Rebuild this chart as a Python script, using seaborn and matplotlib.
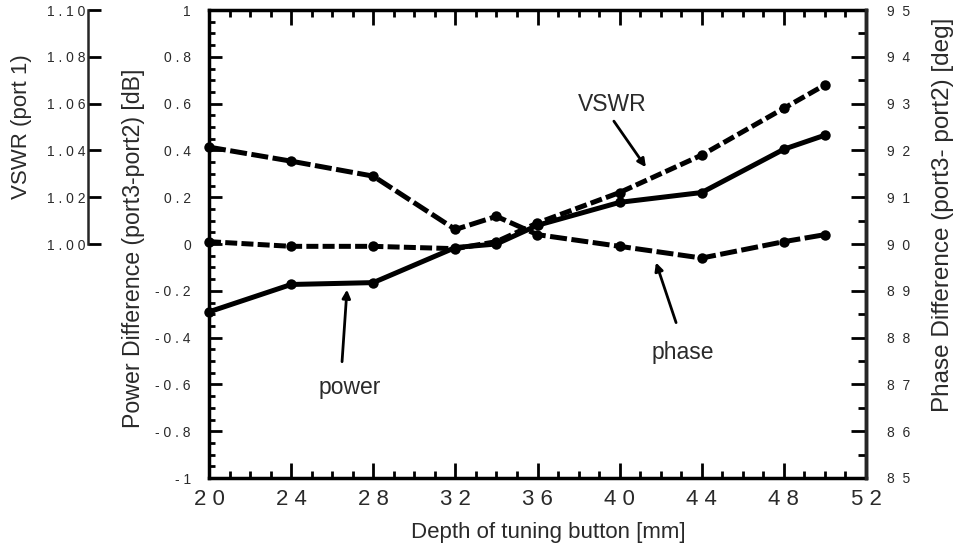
import numpy as np
import matplotlib
matplotlib.use("Agg")
import matplotlib.pyplot as plt
from matplotlib.ticker import MultipleLocator, FixedLocator
import seaborn as sns

# data
depth = [20, 24, 28, 32, 34, 36, 40, 44, 48, 50]
power_db = [-0.29, -0.173, -0.165, -0.015, 0.0, 0.08, 0.178, 0.22, 0.405, 0.465]
phase_deg = [92.07, 91.77, 91.45, 90.31, 90.59, 90.2, 89.95, 89.7, 90.05, 90.2]
vswr = [1.001, 0.999, 0.999, 0.998, 1.001, 1.009, 1.022, 1.038, 1.058, 1.068]

x_ticks = [20, 24, 28, 32, 36, 40, 44, 48, 52]
power_ticks = [-1, -0.8, -0.6, -0.4, -0.2, 0, 0.2, 0.4, 0.6, 0.8, 1]
power_labels = ["- 1", "- 0 . 8", "- 0 . 6", "- 0 . 4", "- 0 . 2", "0",
                "0 . 2", "0 . 4", "0 . 6", "0 . 8", "1"]
phase_ticks = [85, 86, 87, 88, 89, 90, 91, 92, 93, 94, 95]
vswr_ticks = [1.00, 1.02, 1.04, 1.06, 1.08, 1.10]

sns.set_style("ticks")
plt.rcParams["font.family"] = ["Liberation Sans", "DejaVu Sans"]
txt = "#2a2a2a"

fig = plt.figure(figsize=(9.56, 5.52), dpi=100)
ax = fig.add_axes([209 / 956, 1 - 478 / 552, 657 / 956, 468 / 552])
ax2 = ax.twinx()
ax3 = ax.twinx()

lw = 3.6
ms = 7.5
sns.lineplot(x=depth, y=power_db, ax=ax, color="black", linewidth=lw,
             marker="o", markersize=ms, markeredgewidth=0, clip_on=False)
sns.lineplot(x=depth, y=phase_deg, ax=ax2, color="black", linewidth=lw,
             linestyle=(0, (3.4, 0.9)), marker="o", markersize=ms,
             markeredgewidth=0, clip_on=False)
sns.lineplot(x=depth, y=vswr, ax=ax3, color="black", linewidth=lw,
             linestyle=(0, (2.4, 0.85)), marker="o", markersize=ms,
             markeredgewidth=0, clip_on=False)

# main axis (power)
ax.set_xlim(20, 52)
ax.set_ylim(-1, 1)
ax.set_xticks(x_ticks)
ax.set_xticklabels([" ".join(str(v)) for v in x_ticks], fontsize=16, color=txt)
ax.xaxis.set_minor_locator(MultipleLocator(1))
ax.set_yticks(power_ticks)
ax.set_yticklabels(power_labels, fontsize=10, color=txt)
ax.yaxis.set_minor_locator(MultipleLocator(0.05))
ax.tick_params(axis="x", which="both", direction="in", top=True, bottom=True,
               width=2, color="black")
ax.tick_params(axis="x", which="major", length=11, pad=8)
ax.tick_params(axis="x", which="minor", length=5)
ax.tick_params(axis="y", which="both", direction="in", left=True, right=False,
               width=2, color="black")
ax.tick_params(axis="y", which="major", length=9, pad=13)
ax.tick_params(axis="y", which="minor", length=4.5)
for s in ax.spines.values():
    s.set_linewidth(2.5)
    s.set_color("black")
ax.set_xlabel("Depth of tuning button [mm]", fontsize=16, color=txt)
ax.xaxis.set_label_coords(0.517, -0.094)
ax.set_ylabel("Power Difference (port3-port2) [dB]", fontsize=16.7, color=txt)
ax.yaxis.set_label_coords(-0.097, 0.49)

# right axis (phase)
ax2.set_ylim(85, 95)
ax2.yaxis.set_major_locator(FixedLocator(phase_ticks))
ax2.set_yticklabels(["  ".join(str(v)) for v in phase_ticks], fontsize=10, color=txt)
ax2.yaxis.set_minor_locator(MultipleLocator(0.5))
ax2.tick_params(axis="y", which="both", direction="in", width=2, color="black")
ax2.tick_params(axis="y", which="major", length=11, pad=15)
ax2.tick_params(axis="y", which="minor", length=5.5)
for name in ["left", "top", "bottom"]:
    ax2.spines[name].set_visible(False)
ax2.spines["right"].set_linewidth(2.5)
ax2.set_ylabel("Phase Difference (port3- port2) [deg]", fontsize=17.5, color=txt)
ax2.yaxis.set_label_coords(1.1, 0.562)

# far left axis (VSWR)
ax3.set_ylim(0.90, 1.10)
ax3.yaxis.set_ticks_position("left")
ax3.yaxis.set_label_position("left")
for name in ["right", "top", "bottom"]:
    ax3.spines[name].set_visible(False)
ax3.spines["left"].set_visible(True)
ax3.spines["left"].set_position(("axes", -121 / 657))
ax3.spines["left"].set_bounds(1.00, 1.10)
ax3.spines["left"].set_linewidth(1.8)
ax3.set_yticks(vswr_ticks)
ax3.set_yticklabels([" ".join(f"{v:.2f}") for v in vswr_ticks], fontsize=10, color=txt)
ax3.tick_params(axis="y", which="major", direction="in", length=9, width=2,
                pad=2, color="black")
ax3.set_ylabel("VSWR (port 1)", fontsize=16, color=txt)
ax3.yaxis.set_label_coords(-0.269, 0.75)

# annotations with arrows
arrow = dict(arrowstyle="-|>", lw=2, color="black", mutation_scale=12,
             shrinkA=0, shrinkB=0)
ax.text(39.63, 0.597, "VSWR", fontsize=16.5, color=txt, ha="center", va="center")
ax.annotate("", xy=(41.28, 0.328), xytext=(39.72, 0.525), arrowprops=arrow)
ax.text(43.09, -0.465, "phase", fontsize=16.5, color=txt, ha="center", va="center")
ax.annotate("", xy=(41.77, -0.079), xytext=(42.75, -0.336), arrowprops=arrow)
ax.text(26.87, -0.615, "power", fontsize=16.5, color=txt, ha="center", va="center")
ax.annotate("", xy=(26.72, -0.195), xytext=(26.48, -0.503), arrowprops=arrow)

fig.savefig("out.png", dpi=100)
